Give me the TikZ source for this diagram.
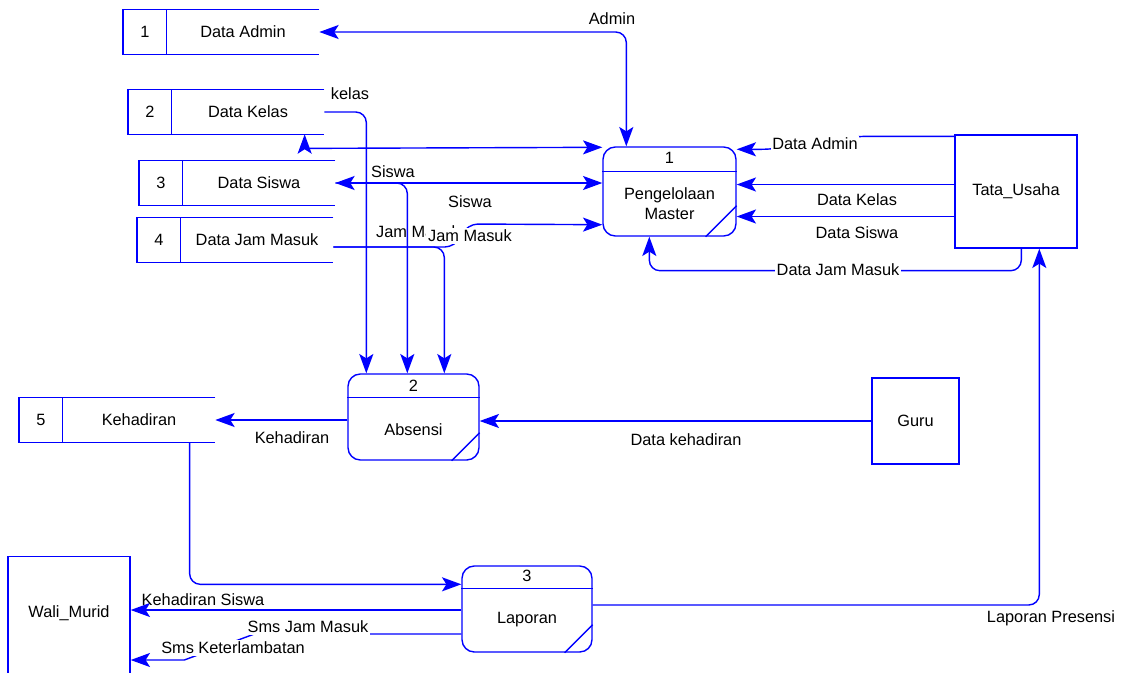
\documentclass[tikz,border=0pt]{standalone}
\usepackage{fontspec}
\setmainfont{Liberation Sans}
\usetikzlibrary{calc,positioning,arrows.meta}
\definecolor{dfdblue}{RGB}{0,0,255}

\begin{document}
\begin{tikzpicture}[x=0.02cm, y=-0.02cm,
    every node/.style={font=\fontsize{9.3}{11}\selectfont, text=black},
    dfdline/.style={draw=dfdblue, line width=0.8pt},
    tip/.style={-{Stealth[length=11pt,width=8pt,inset=2.5pt]}},
    flow/.style={dfdline, rounded corners=6pt, tip},
    biflow/.style={flow, {Stealth[length=11pt,width=8pt,inset=2.5pt]}-{Stealth[length=11pt,width=8pt,inset=2.5pt]}},
    proc/.style={dfdline, rounded corners=7pt, inner sep=0pt},
    ext/.style={dfdline, inner sep=0pt},
    store/.style={inner sep=0pt, minimum width=3.04cm, minimum height=0.88cm},
    num/.style={inner sep=0pt, minimum width=0.86cm, minimum height=0.88cm},
    lbl/.style={inner sep=1pt},
    lblw/.style={lbl, fill=white}]

    \useasboundingbox (0,0) rectangle (1130,673);

    % data stores
    \node[store] (st1) at (243,32) {Data Admin};
    \node[num, left=0pt of st1] (n1) {1};
    \node[store] (st2) at (248,112) {Data Kelas};
    \node[num, left=0pt of st2] (n2) {2};
    \node[store] (st3) at (259,183) {Data Siswa};
    \node[num, left=0pt of st3] (n3) {3};
    \node[store] (st4) at (257,240) {Data Jam Masuk};
    \node[num, left=0pt of st4] (n4) {4};
    \node[store] (st5) at (139,420) {Kehadiran};
    \node[num, left=0pt of st5] (n5) {5};

    \draw[dfdline] (st1.north east) -- (n1.north west) -- (n1.south west) -- (st1.south east);
    \draw[dfdline] (n1.north east) -- (n1.south east);
    \draw[dfdline] (st2.north east) -- (n2.north west) -- (n2.south west) -- (st2.south east);
    \draw[dfdline] (n2.north east) -- (n2.south east);
    \draw[dfdline] (st3.north east) -- (n3.north west) -- (n3.south west) -- (st3.south east);
    \draw[dfdline] (n3.north east) -- (n3.south east);
    \draw[dfdline] (st4.north east) -- (n4.north west) -- (n4.south west) -- (st4.south east);
    \draw[dfdline] (n4.north east) -- (n4.south east);
    \draw[dfdline] (st5.north east) -- (n5.north west) -- (n5.south west) -- (st5.south east);
    \draw[dfdline] (n5.north east) -- (n5.south east);

    % processes
    \node[proc, minimum width=2.66cm, minimum height=1.78cm] (p1) at (669.5,191.5) {};
    \node[proc, minimum width=2.62cm, minimum height=1.72cm] (p2) at (413.5,417) {};
    \node[proc, minimum width=2.60cm, minimum height=1.72cm] (p3) at (527,609) {};

    \draw[dfdline] ($(p1.north west)+(0,25)$) -- ($(p1.north east)+(0,25)$);
    \draw[dfdline] ($(p1.south east)+(-31,0)$) -- ($(p1.south east)+(0,-31)$);
    \node (p1num) at ($(p1.north)+(0,12)$) {1};
    \node[align=center] (p1txt) at ($(p1.center)+(0,12)$) {Pengelolaan\\Master};

    \draw[dfdline] ($(p2.north west)+(0,24)$) -- ($(p2.north east)+(0,24)$);
    \draw[dfdline] ($(p2.south east)+(-28,0)$) -- ($(p2.south east)+(0,-28)$);
    \node (p2num) at ($(p2.north)+(0,12)$) {2};
    \node (p2txt) at ($(p2.center)+(0,13)$) {Absensi};

    \draw[dfdline] ($(p3.north west)+(0,23)$) -- ($(p3.north east)+(0,23)$);
    \draw[dfdline] ($(p3.south east)+(-28,0)$) -- ($(p3.south east)+(0,-28)$);
    \node (p3num) at ($(p3.north)+(0,11)$) {3};
    \node (p3txt) at ($(p3.center)+(0,11)$) {Laporan};

    % external entities
    \node[ext, minimum width=2.44cm, minimum height=2.26cm] (tu) at (1016,191.5) {Tata\_Usaha};
    \node[ext, minimum width=1.74cm, minimum height=1.72cm] (guru) at (915.5,421) {Guru};
    \node[ext, minimum width=2.44cm, minimum height=3cm, anchor=north] (wm) at (69,556) {};
    \node (wmtxt) at ($(wm.north)+(0,57)$) {Wali\_Murid};

    % flows around Pengelolaan Master
    \draw[biflow] (st1.east) -| ($(p1.north west)+(24,0)$);
    \node[lbl] (lAdmin) at (612,19) {Admin};

    \draw[biflow] ($(p1.north west)+(0,1)$) -- ($(st2.south west)+(146,14)$)
        .. controls ($(st2.south west)+(133,14)$) .. ($(st2.south west)+(133,0)$);
    \draw[biflow] (st3.east) -- (p1.west |- st3.east);

    \draw[flow] ($(st4.east)+(0,7)$) -- ++(122,0) -- ++(12,-23) -- ($(p1.south west)+(0,-12)$);

    \draw[flow] ($(tu.north west)+(0,2)$) -- ++(-97,0) -- ++(-86,13) -- ($(p1.north east)+(0,3)$);
    \node[lblw] (lDataAdmin) at (815,144) {Data Admin};
    \draw[flow] ($(tu.west)+(0,-7)$) -- ($(p1.east)+(0,-7)$);
    \node[lbl] (lDataKelas) at (857,200) {Data Kelas};
    \draw[flow] ($(tu.west)+(0,25)$) -- ($(p1.east)+(0,25)$);
    \node[lbl] (lDataSiswa) at (857,233) {Data Siswa};
    \draw[flow] ($(tu.south west)+(67,0)$) |- ($(p1.south west)+(47,34)$) -- ($(p1.south west)+(47,0)$);
    \node[lblw] (lDataJam) at (838,270) {Data Jam Masuk};

    % flows into Absensi
    \draw[flow] (st2.east) -| ($(p2.north west)+(19,0)$);
    \node[lbl] (lKelas) at (350,94) {kelas};
    \draw[flow] (st3.east) -| ($(p2.north west)+(60,0)$);
    \node[lbl] (lSiswaA) at (393,172) {Siswa};
    \node[lbl] (lSiswaB) at (470,202) {Siswa};
    \draw[flow] ($(st4.east)+(0,7)$) -| ($(p2.north west)+(97,0)$);
    \node[lbl] (lJamA) at (418,232) {Jam Masuk};
    \node[lblw] (lJamB) at (470,236) {Jam Masuk};

    \draw[flow] (guru.west) -- (guru.west -| p2.east);
    \node[lbl] (lGuru) at (686,440) {Data kehadiran};
    \draw[flow] (p2.west |- st5.east) -- (st5.east);
    \node[lbl] (lKehadiran) at (292,438) {Kehadiran};

    % flows of Laporan
    \draw[flow] ($(st5.south west)+(127,0)$) |- ($(p3.north west)+(0,19)$);
    \draw[flow] ($(p3.east)+(0,-4)$) -| ($(tu.south west)+(85,0)$);
    \node[lbl] (lPresensi) at (1051,618) {Laporan Presensi};

    \draw[flow] ($(p3.west)+(0,1)$) -- ($(p3.west -| wm.east)+(0,1)$);
    \node[lbl] (lKehSiswa) at (203,600) {Kehadiran Siswa};
    \draw[flow, rounded corners=0pt] ($(p3.west)+(0,25)$) -- ++(-207,0) -- ++(-70,26) -- ($(p3.west -| wm.east)+(0,51)$);
    \node[lblw] (lSmsJam) at (308,627) {Sms Jam Masuk};
    \node[lblw] (lSmsLambat) at (233,648) {Sms Keterlambatan};

\end{tikzpicture}
\end{document}
